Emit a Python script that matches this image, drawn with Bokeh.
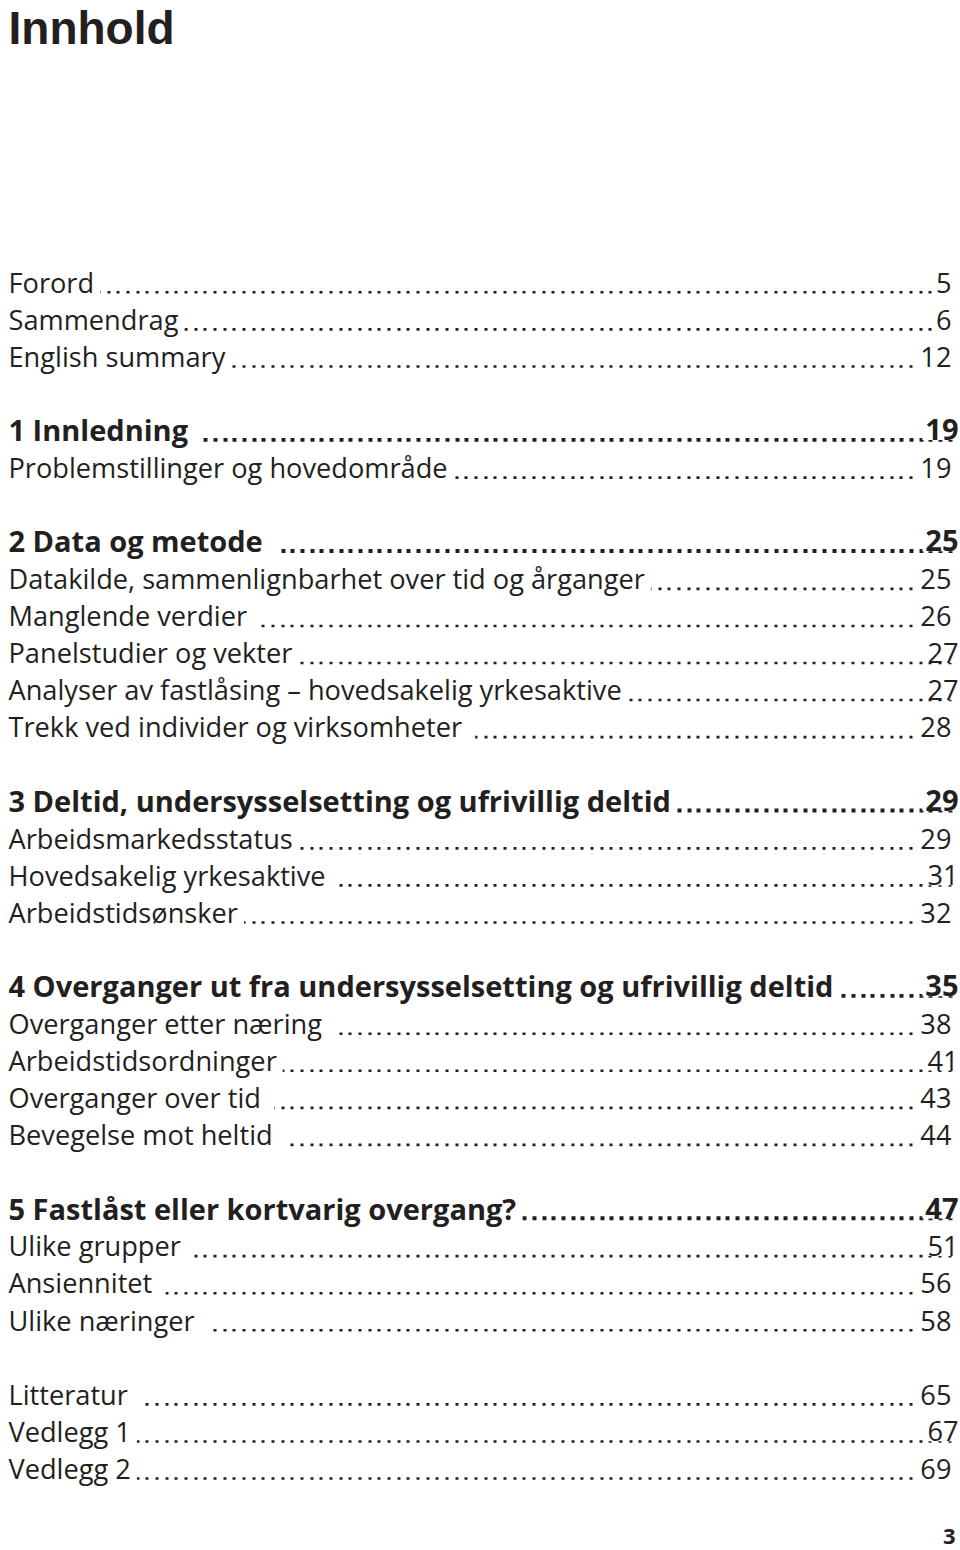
from bokeh.plotting import figure
from bokeh.models import ColumnDataSource, Range1d
from bokeh.embed import file_html
from bokeh.resources import INLINE
from bokeh.core.properties import value

# ---------------- data ----------------
title_text = "Innhold"

entries = [
    "Forord", "Sammendrag", "English summary",
    "1 Innledning ", "Problemstillinger og hovedområde",
    "2 Data og metode ", "Datakilde, sammenlignbarhet over tid og årganger",
    "Manglende verdier ", "Panelstudier og vekter",
    "Analyser av fastlåsing \u2013 hovedsakelig yrkesaktive",
    "Trekk ved individer og virksomheter ",
    "3 Deltid, undersysselsetting og ufrivillig deltid", "Arbeidsmarkedsstatus",
    "Hovedsakelig yrkesaktive ", "Arbeidstidsønsker",
    "4 Overganger ut fra undersysselsetting og ufrivillig deltid",
    "Overganger etter næring ", "Arbeidstidsordninger", "Overganger over tid ",
    "Bevegelse mot heltid ",
    "5 Fastlåst eller kortvarig overgang?", "Ulike grupper ", "Ansiennitet ",
    "Ulike næringer ",
    "Litteratur ", "Vedlegg 1", "Vedlegg 2",
]
pages = [
    " 5", " 6", " 12",
    "19", " 19",
    "25", " 25", " 26", "27", "27", " 28",
    "29", " 29", "31", " 32",
    "35", " 38", "41", " 43", " 44",
    "47", "51", " 56", " 58",
    " 65", "67", " 69",
]
line_no = [
    0, 1, 2,
    4, 5,
    7, 8, 9, 10, 11, 12,
    14, 15, 16, 17,
    19, 20, 21, 22, 23,
    25, 26, 27, 28,
    30, 31, 32,
]
heading = [
    False, False, False,
    True, False,
    True, False, False, False, False, False,
    True, False, False, False,
    True, False, False, False, False,
    True, False, False, False,
    False, False, False,
]
folio = "3"

# ---------------- layout ----------------
W, H = 960, 1550
pitch = 37.07
base0 = 293.0          # baseline of first entry (px from top)
left_x, right_x = 8, 958
ink = "#231f20"
font = value("Open Sans")
BASE_SHIFT = 0.42      # empirical correction of the rendered alphabetic baseline (em)

styles = {
    False: dict(size=27.2, style="normal", dot_w=2.6, dash="3 7 3 6 3 7", dot_up=1.2),
    True: dict(size=29, style="bold", dot_w=3.8, dash="4 6 4 5 4 6", dot_up=2.0),
}

p = figure(width=W, height=H, x_range=Range1d(0, W), y_range=Range1d(H, 0),
           output_backend="svg", toolbar_location=None, min_border=0,
           x_axis_location=None, y_axis_location=None)
p.grid.visible = False
p.outline_line_color = None
p.background_fill_color = "white"
p.border_fill_color = "white"


def subset(flag):
    st = styles[flag]
    idx = [i for i, h in enumerate(heading) if h == flag]
    base = [base0 + pitch * line_no[i] for i in idx]
    return dict(
        x0=[left_x + 2] * len(idx), x1=[right_x - 2] * len(idx),
        y=[b - BASE_SHIFT * st["size"] for b in base],
        yd=[b - st["dot_up"] for b in base],
        xl=[left_x] * len(idx),
        xr=[right_x] * len(idx),
        entry=[entries[i] for i in idx],
        page=[pages[i] for i in idx],
    )


for flag in (False, True):
    st = styles[flag]
    src = ColumnDataSource(subset(flag))
    p.segment(x0="x0", y0="yd", x1="x1", y1="yd", source=src, line_color=ink,
              line_width=st["dot_w"], line_dash=value(st["dash"]))
    p.text(x="xl", y="y", text="entry", source=src, text_font=font,
           text_font_size=f"{st['size']}px", text_font_style=st["style"], text_color=ink,
           text_align="left", text_baseline="alphabetic", background_fill_color="white",
           padding=dict(left=0, right=6, top=0, bottom=0))
    p.text(x="xr", y="y", text="page", source=src, text_font=font,
           text_font_size=f"{st['size']}px", text_font_style=st["style"], text_color=ink,
           text_align="right", text_baseline="alphabetic", background_fill_color="white",
           padding=dict(left=3, right=0, top=0, bottom=0))

title_size = 46
p.text(x=[left_x], y=[47 - BASE_SHIFT * title_size], text=[title_text],
       text_font=value("Liberation Sans"),
       text_font_size=f"{title_size}px", text_font_style="bold", text_color=ink,
       text_align="left", text_baseline="alphabetic")
folio_size = 22
p.text(x=[955], y=[1545 - BASE_SHIFT * folio_size], text=[folio], text_font=font,
       text_font_size=f"{folio_size}px", text_font_style="bold", text_color=ink,
       text_align="right", text_baseline="alphabetic")

open("out.html", "w").write(file_html(p, INLINE))
